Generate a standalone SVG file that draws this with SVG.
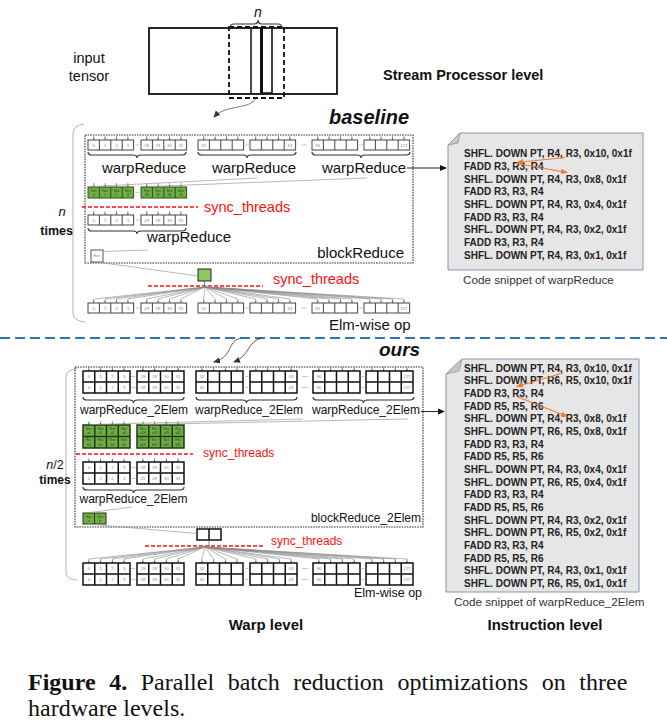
<svg xmlns="http://www.w3.org/2000/svg" width="667" height="721" viewBox="0 0 667 721">
<style>
.t{font-family:"Liberation Sans",Arial,sans-serif;fill:#111}
.lb{font-size:15px}
.lo{font-size:12px}
.sy{font-size:14.5px;fill:#ff1010}
.sy2{font-size:12px;fill:#ff1010}
.tn{font-family:"Liberation Sans",Arial,sans-serif;font-size:4.2px;fill:#888;text-anchor:middle}
.tg{font-family:"Liberation Sans",Arial,sans-serif;font-size:3.2px;fill:#1e3d10;text-anchor:middle}
.cd{font-family:"Liberation Sans",Arial,sans-serif;font-size:10px;font-weight:bold;fill:#222}
.cap{font-family:"Liberation Sans",Arial,sans-serif;font-size:11.7px;fill:#333}
.red{stroke:#ff1010;stroke-width:1.5;stroke-dasharray:4 2;fill:none}
.thin{stroke:#999;stroke-width:0.7;fill:none}
.fan{stroke:#8a8a8a;stroke-width:0.6;fill:none}
.gap{stroke:#bbb;stroke-width:0.8}
.brace{stroke:#333;stroke-width:1.2;fill:none}
.blk{fill:none;stroke:#333;stroke-width:1.1;stroke-dasharray:1.6 1}
</style>
<defs>
<marker id="ah" markerWidth="8" markerHeight="8" refX="6" refY="4" orient="auto" markerUnits="userSpaceOnUse"><path d="M0 1L7 4L0 7Z" fill="#333"/></marker>
<marker id="ahk" markerWidth="8" markerHeight="8" refX="6" refY="4" orient="auto" markerUnits="userSpaceOnUse"><path d="M0 1L7 4L0 7Z" fill="#111"/></marker>
<marker id="aho" markerWidth="8" markerHeight="8" refX="6" refY="4" orient="auto" markerUnits="userSpaceOnUse"><path d="M0 1.2L7 4L0 6.8Z" fill="#ed7d31"/></marker>
<g id="tk4"><path d="M5.7 -4V-1M17.1 -4V-1M28.5 -4V-1M39.9 -4V-1" stroke="#555" stroke-width="0.6"/><path d="M4.8 -1.6L5.7 0L6.6 -1.6ZM16.2 -1.6L17.1 0L18 -1.6ZM27.6 -1.6L28.5 0L29.4 -1.6ZM39 -1.6L39.9 0L40.8 -1.6Z" fill="#333"/></g>
<g id="tk4o"><path d="M5.9 -4V-1M17.6 -4V-1M29.4 -4V-1M41.1 -4V-1" stroke="#555" stroke-width="0.6"/><path d="M5 -1.6L5.9 0L6.8 -1.6ZM16.7 -1.6L17.6 0L18.5 -1.6ZM28.5 -1.6L29.4 0L30.3 -1.6ZM40.2 -1.6L41.1 0L42 -1.6Z" fill="#333"/></g>
<g id="c4"><use href="#tk4"/><rect width="45.6" height="10" fill="#fff" stroke="#444" stroke-width="1"/><path d="M11.4 0V10M22.8 0V10M34.2 0V10" stroke="#444" stroke-width="1"/></g>
<g id="g4"><use href="#tk4"/><rect width="45.6" height="11" fill="#70ad47" stroke="#2f4f1c" stroke-width="1"/><path d="M11.4 0V11M22.8 0V11M34.2 0V11" stroke="#2f4f1c" stroke-width="1"/></g>
<g id="c42"><use href="#tk4o"/><rect width="47" height="22" fill="#fff" stroke="#111" stroke-width="1.5"/><path d="M11.75 0V22M23.5 0V22M35.25 0V22M0 11H47" stroke="#111" stroke-width="1.5"/></g>
<g id="g42"><use href="#tk4o"/><rect width="47" height="23" fill="#70ad47" stroke="#1f3a10" stroke-width="1.5"/><path d="M11.75 0V23M23.5 0V23M35.25 0V23M0 11.5H47" stroke="#1f3a10" stroke-width="1.5"/></g>
<path id="br98" d="M0 0Q0 3 4 3H45Q49 3 49 6Q49 3 53 3H94Q98 3 98 0"/>
<path id="br101" d="M0 0Q0 3 4 3H46.5Q50.5 3 50.5 6Q50.5 3 54.5 3H97Q101 3 101 0"/>
</defs>

<g id="input-tensor">
<text class="t" x="89" y="63" font-size="14.5" text-anchor="middle" fill="#333">input</text>
<text class="t" x="89" y="81" font-size="14.5" text-anchor="middle" fill="#333">tensor</text>
<rect x="149" y="28" width="188" height="66" fill="#fff" stroke="#111" stroke-width="1.8"/>
<path d="M251 28V94" stroke="#111" stroke-width="1.5"/>
<path d="M261.5 28V93" stroke="#111" stroke-width="3"/>
<path d="M261.5 93H272V28" stroke="#111" stroke-width="1.6" fill="none"/>
<rect x="229" y="27" width="55" height="71" fill="none" stroke="#111" stroke-width="1.8" stroke-dasharray="5 3"/>
<path class="brace" d="M230 28Q230 24 234 24H254Q258 24 258 20Q258 24 262 24H278Q282 24 282 28" stroke-width="1"/>
<text class="t" x="258" y="17" font-size="14" font-style="italic" text-anchor="middle">n</text>
</g>
<g id="level-labels">
<text class="t" x="383" y="80" font-size="14.5" font-weight="bold">Stream Processor level</text>
<text class="t" x="266" y="630" font-size="15" font-weight="bold" text-anchor="middle">Warp level</text>
<text class="t" x="545" y="630" font-size="15" font-weight="bold" text-anchor="middle">Instruction level</text>
</g>

<g id="baseline-section">
<text class="t" x="329" y="124" font-size="20" font-weight="bold" font-style="italic">baseline</text>
<path d="M84 124Q73 125 73 134V313Q73 321 85 322" stroke="#aaa" stroke-width="0.9" fill="none"/>
<text class="t" x="62" y="216" font-size="13" font-style="italic" text-anchor="middle">n</text>
<text class="t" x="73" y="235" font-size="12.5" font-weight="bold" text-anchor="end">times</text>
</g>

<g id="blockReduce">
<rect class="blk" x="85" y="135" width="328" height="128"/>
<use href="#c4" x="88" y="140"/><use href="#c4" x="141" y="140"/><use href="#c4" x="198" y="140"/><use href="#c4" x="250" y="140"/><use href="#c4" x="312" y="140"/><use href="#c4" x="364" y="140"/>
<path class="gap" d="M135.5 145H139.5M244.6 145H249M301 145H307M358.6 145H363"/>
<text class="tn" y="146.5"><tspan x="93.7">0</tspan><tspan x="105.1">1</tspan><tspan x="116.5">2</tspan><tspan x="127.9">3</tspan><tspan x="146.7">28</tspan><tspan x="158.1">29</tspan><tspan x="169.5">30</tspan><tspan x="180.9">31</tspan><tspan x="203.7">32</tspan><tspan x="289.9">63</tspan><tspan x="317.7">96</tspan><tspan x="403.9">127</tspan></text>
<use href="#br98" class="brace" x="88" y="152"/><use href="#br98" class="brace" x="198" y="152"/><use href="#br98" class="brace" x="312" y="152"/>
<text class="t lb" x="144" y="173" text-anchor="middle">warpReduce</text>
<text class="t lb" x="254" y="173" text-anchor="middle">warpReduce</text>
<text class="t lb" x="364" y="173" text-anchor="middle">warpReduce</text>
<use href="#g4" x="88" y="187"/><use href="#g4" x="141" y="187"/>
<path class="gap" d="M135.5 192.5H139.5"/>
<text class="tg" y="191.6"><tspan x="93.7">Res</tspan><tspan x="105.1">Res</tspan><tspan x="116.5">Res</tspan><tspan x="127.9">Res</tspan><tspan x="146.7">Res</tspan><tspan x="158.1">Res</tspan><tspan x="169.5">Res</tspan><tspan x="180.9">Res</tspan></text>
<text class="tg" y="196"><tspan x="93.7">0</tspan><tspan x="105.1">1</tspan><tspan x="116.5">2</tspan><tspan x="127.9">3</tspan><tspan x="146.7">28</tspan><tspan x="158.1">29</tspan><tspan x="169.5">30</tspan><tspan x="180.9">31</tspan></text>
<path class="red" d="M82 207H198"/>
<text class="t sy" x="204" y="212">sync_threads</text>
<use href="#c4" x="88" y="215"/><use href="#c4" x="141" y="215"/>
<path class="gap" d="M135.5 220H139.5"/>
<text class="tn" y="221.5"><tspan x="93.7">0</tspan><tspan x="105.1">1</tspan><tspan x="116.5">2</tspan><tspan x="127.9">3</tspan><tspan x="146.7">28</tspan><tspan x="158.1">29</tspan><tspan x="169.5">30</tspan><tspan x="180.9">31</tspan></text>
<use href="#br98" class="brace" x="88" y="228"/>
<text class="t lb" x="147" y="242">warpReduce</text>
<rect x="91" y="250" width="12" height="12" fill="#fff" stroke="#555" stroke-width="1"/>
<text class="tn" x="97" y="257.3" font-size="3.4">Res</text>
<text class="t lb" x="404" y="258" text-anchor="end">blockReduce</text>
</g>

<g id="baseline-elmwise">
<rect x="198" y="269" width="13" height="12" fill="#8cc85a" stroke="#222" stroke-width="1"/>
<path class="red" d="M148 286H263"/>
<text class="t sy" x="273" y="284">sync_threads</text>
<use href="#c4" x="88" y="303"/><use href="#c4" x="141" y="303"/><use href="#c4" x="198" y="303"/><use href="#c4" x="250" y="303"/><use href="#c4" x="312" y="303"/><use href="#c4" x="364" y="303"/>
<path class="gap" d="M135.5 308H139.5M244.6 308H249M301 308H307M358.6 308H363"/>
<text class="tn" y="309.5"><tspan x="93.7">0</tspan><tspan x="105.1">1</tspan><tspan x="116.5">2</tspan><tspan x="127.9">3</tspan><tspan x="146.7">28</tspan><tspan x="158.1">29</tspan><tspan x="169.5">30</tspan><tspan x="180.9">31</tspan><tspan x="203.7">32</tspan><tspan x="289.9">63</tspan><tspan x="317.7">96</tspan><tspan x="403.9">127</tspan></text>
<text class="t lb" x="329" y="330">Elm-wise op</text>
</g>

<g id="code-warpReduce">
<path d="M460 133H643V270H448V145Z" fill="#e7e6e6" stroke="#8497b0" stroke-width="1"/>
<path d="M448 145L460 133L458 143Z" fill="#c8c8c8" stroke="#8497b0" stroke-width="0.8"/>
<text class="cd" x="464" y="157.3">SHFL. DOWN PT, R4, R3, 0x10, 0x1f<tspan x="464" dy="12.68">FADD R3, R3, R4</tspan><tspan x="464" dy="12.68">SHFL. DOWN PT, R4, R3, 0x8, 0x1f</tspan><tspan x="464" dy="12.68">FADD R3, R3, R4</tspan><tspan x="464" dy="12.68">SHFL. DOWN PT, R4, R3, 0x4, 0x1f</tspan><tspan x="464" dy="12.68">FADD R3, R3, R4</tspan><tspan x="464" dy="12.68">SHFL. DOWN PT, R4, R3, 0x2, 0x1f</tspan><tspan x="464" dy="12.68">FADD R3, R3, R4</tspan><tspan x="464" dy="12.68">SHFL. DOWN PT, R4, R3, 0x1, 0x1f</tspan></text>
<path d="M565 157.5L517 162.5" stroke="#ed7d31" stroke-width="1.2" marker-end="url(#aho)"/>
<path d="M517 163.5L567 172.5" stroke="#ed7d31" stroke-width="1.2" marker-end="url(#aho)"/>
<text class="cap" x="463" y="284">Code snippet of warpReduce</text>
</g>

<path id="divider" d="M0 338H667" stroke="#2e75b6" stroke-width="2" stroke-dasharray="10 5"/>

<g id="ours-section">
<text class="t" x="379" y="356" font-size="19" font-weight="bold" font-style="italic">ours</text>
<path d="M77 369Q66 369 66 378V572Q66 580 77 580" stroke="#aaa" stroke-width="0.9" fill="none"/>
<text class="t" x="55" y="469" font-size="12.5" text-anchor="middle"><tspan font-style="italic">n</tspan>/2</text>
<text class="t" x="55" y="484" font-size="12" font-weight="bold" text-anchor="middle">times</text>
</g>

<g id="blockReduce_2Elem">
<rect class="blk" x="75" y="367" width="348" height="160"/>
<use href="#c42" x="83" y="371"/><use href="#c42" x="137" y="371"/><use href="#c42" x="196" y="371"/><use href="#c42" x="250" y="371"/><use href="#c42" x="313" y="371"/><use href="#c42" x="366" y="371"/>
<path class="gap" d="M131.5 376.5H135.5M245 376.5H248.5M302 376.5H308M361.5 376.5H364.5M131.5 387.5H135.5M245 387.5H248.5M302 387.5H308M361.5 387.5H364.5"/>
<text class="tn" y="378"><tspan x="88.9">0</tspan><tspan x="100.6">1</tspan><tspan x="112.4">2</tspan><tspan x="124.1">3</tspan><tspan x="142.9">28</tspan><tspan x="154.6">29</tspan><tspan x="166.4">30</tspan><tspan x="178.1">31</tspan><tspan x="201.9">32</tspan><tspan x="291.1">63</tspan><tspan x="318.9">96</tspan><tspan x="407.1">127</tspan></text>
<text class="tn" y="389"><tspan x="88.9">0</tspan><tspan x="100.6">1</tspan><tspan x="112.4">2</tspan><tspan x="124.1">3</tspan><tspan x="142.9">28</tspan><tspan x="154.6">29</tspan><tspan x="166.4">30</tspan><tspan x="178.1">31</tspan><tspan x="201.9">32</tspan><tspan x="291.1">63</tspan><tspan x="318.9">96</tspan><tspan x="407.1">127</tspan></text>
<use href="#br101" class="brace" x="83" y="397"/><use href="#br101" class="brace" x="196" y="397"/><use href="#br101" class="brace" x="313" y="397"/>
<text class="t lo" x="134" y="414" text-anchor="middle">warpReduce_2Elem</text>
<text class="t lo" x="249" y="414" text-anchor="middle">warpReduce_2Elem</text>
<text class="t lo" x="366" y="414" text-anchor="middle">warpReduce_2Elem</text>
<use href="#g42" x="83" y="425"/><use href="#g42" x="137" y="425"/>
<text class="tg" y="429.8"><tspan x="88.9">Res</tspan><tspan x="100.6">Res</tspan><tspan x="112.4">Res</tspan><tspan x="124.1">Res</tspan><tspan x="142.9">Res</tspan><tspan x="154.6">Res</tspan><tspan x="166.4">Res</tspan><tspan x="178.1">Res</tspan></text>
<text class="tg" y="434.4"><tspan x="88.9">a0</tspan><tspan x="100.6">a1</tspan><tspan x="112.4">a2</tspan><tspan x="124.1">a3</tspan><tspan x="142.9">a28</tspan><tspan x="154.6">a29</tspan><tspan x="166.4">a30</tspan><tspan x="178.1">a31</tspan></text>
<text class="tg" y="441.3"><tspan x="88.9">Res</tspan><tspan x="100.6">Res</tspan><tspan x="112.4">Res</tspan><tspan x="124.1">Res</tspan><tspan x="142.9">Res</tspan><tspan x="154.6">Res</tspan><tspan x="166.4">Res</tspan><tspan x="178.1">Res</tspan></text>
<text class="tg" y="445.9"><tspan x="88.9">b0</tspan><tspan x="100.6">b1</tspan><tspan x="112.4">b2</tspan><tspan x="124.1">b3</tspan><tspan x="142.9">b28</tspan><tspan x="154.6">b29</tspan><tspan x="166.4">b30</tspan><tspan x="178.1">b31</tspan></text>
<path class="red" d="M76 454H193"/>
<text class="t sy2" x="203" y="457">sync_threads</text>
<use href="#c42" x="83" y="462"/><use href="#c42" x="137" y="462"/>
<path class="gap" d="M131.5 467.5H135.5M131.5 478.5H135.5"/>
<text class="tn" y="469"><tspan x="88.9">0</tspan><tspan x="100.6">1</tspan><tspan x="112.4">2</tspan><tspan x="124.1">3</tspan><tspan x="142.9">28</tspan><tspan x="154.6">29</tspan><tspan x="166.4">30</tspan><tspan x="178.1">31</tspan></text>
<text class="tn" y="480"><tspan x="88.9">0</tspan><tspan x="100.6">1</tspan><tspan x="112.4">2</tspan><tspan x="124.1">3</tspan><tspan x="142.9">28</tspan><tspan x="154.6">29</tspan><tspan x="166.4">30</tspan><tspan x="178.1">31</tspan></text>
<use href="#br101" class="brace" x="83" y="487"/>
<text class="t lo" x="133.5" y="503" text-anchor="middle">warpReduce_2Elem</text>
<rect x="83" y="513" width="23" height="11" fill="#70ad47" stroke="#1f3a10" stroke-width="1"/>
<path d="M94.5 513V524" stroke="#1f3a10" stroke-width="1"/>
<text class="tg" y="517.6"><tspan x="88.75">Res</tspan><tspan x="100.25">Res</tspan></text>
<text class="tg" y="522"><tspan x="88.75">a</tspan><tspan x="100.25">b</tspan></text>
<text class="t lo" x="421" y="522" text-anchor="end">blockReduce_2Elem</text>
</g>

<g id="ours-elmwise">
<rect x="197" y="529" width="24" height="11" fill="#fff" stroke="#111" stroke-width="1.5"/>
<path d="M209 529V540" stroke="#111" stroke-width="1.5"/>
<path class="red" d="M145 546H263"/>
<text class="t sy2" x="271" y="545">sync_threads</text>
<use href="#c42" x="83" y="563"/><use href="#c42" x="137" y="563"/><use href="#c42" x="196" y="563"/><use href="#c42" x="250" y="563"/><use href="#c42" x="313" y="563"/><use href="#c42" x="366" y="563"/>
<path class="gap" d="M131.5 568.5H135.5M245 568.5H248.5M302 568.5H308M361.5 568.5H364.5M131.5 579.5H135.5M245 579.5H248.5M302 579.5H308M361.5 579.5H364.5"/>
<text class="tn" y="570"><tspan x="88.9">0</tspan><tspan x="100.6">1</tspan><tspan x="112.4">2</tspan><tspan x="124.1">3</tspan><tspan x="142.9">28</tspan><tspan x="154.6">29</tspan><tspan x="166.4">30</tspan><tspan x="178.1">31</tspan><tspan x="201.9">32</tspan><tspan x="291.1">63</tspan><tspan x="318.9">96</tspan><tspan x="407.1">127</tspan></text>
<text class="tn" y="581"><tspan x="88.9">0</tspan><tspan x="100.6">1</tspan><tspan x="112.4">2</tspan><tspan x="124.1">3</tspan><tspan x="142.9">28</tspan><tspan x="154.6">29</tspan><tspan x="166.4">30</tspan><tspan x="178.1">31</tspan><tspan x="201.9">32</tspan><tspan x="291.1">63</tspan><tspan x="318.9">96</tspan><tspan x="407.1">127</tspan></text>
<text class="t" x="354" y="597" font-size="12.5">Elm-wise op</text>
</g>

<g id="code-warpReduce_2Elem">
<path d="M462 359H639V592H446V374Z" fill="#e7e6e6" stroke="#8497b0" stroke-width="1"/>
<path d="M446 374L462 359L459 371Z" fill="#c8c8c8" stroke="#8497b0" stroke-width="0.8"/>
<text class="cd" x="464" y="371.7">SHFL. DOWN PT, R4, R3, 0x10, 0x1f<tspan x="464" dy="12.66">SHFL. DOWN PT, R6, R5, 0x10, 0x1f</tspan><tspan x="464" dy="12.66">FADD R3, R3, R4</tspan><tspan x="464" dy="12.66">FADD R5, R5, R6</tspan><tspan x="464" dy="12.66">SHFL. DOWN PT, R4, R3, 0x8, 0x1f</tspan><tspan x="464" dy="12.66">SHFL. DOWN PT, R6, R5, 0x8, 0x1f</tspan><tspan x="464" dy="12.66">FADD R3, R3, R4</tspan><tspan x="464" dy="12.66">FADD R5, R5, R6</tspan><tspan x="464" dy="12.66">SHFL. DOWN PT, R4, R3, 0x4, 0x1f</tspan><tspan x="464" dy="12.66">SHFL. DOWN PT, R6, R5, 0x4, 0x1f</tspan><tspan x="464" dy="12.66">FADD R3, R3, R4</tspan><tspan x="464" dy="12.66">FADD R5, R5, R6</tspan><tspan x="464" dy="12.66">SHFL. DOWN PT, R4, R3, 0x2, 0x1f</tspan><tspan x="464" dy="12.66">SHFL. DOWN PT, R6, R5, 0x2, 0x1f</tspan><tspan x="464" dy="12.66">FADD R3, R3, R4</tspan><tspan x="464" dy="12.66">FADD R5, R5, R6</tspan><tspan x="464" dy="12.66">SHFL. DOWN PT, R4, R3, 0x1, 0x1f</tspan><tspan x="464" dy="12.66">SHFL. DOWN PT, R6, R5, 0x1, 0x1f</tspan></text>
<path d="M563 373L517 386.5" stroke="#ed7d31" stroke-width="1.2" marker-end="url(#aho)"/>
<path d="M518 397L567 416.5" stroke="#ed7d31" stroke-width="1.2" marker-end="url(#aho)"/>
<text class="cap" x="454" y="606">Code snippet of warpReduce_2Elem</text>
</g>

<g id="connectors">
<path d="M256 98C250 110 226 104 214 117" stroke="#555" stroke-width="0.8" fill="none" marker-end="url(#ah)"/>
<path d="M241 338C226 342 234 356 214 362" stroke="#333" stroke-width="0.8" fill="none" marker-end="url(#ah)"/>
<path d="M262 338C247 341 250 356 234 362" stroke="#333" stroke-width="0.8" fill="none" marker-end="url(#ah)"/>
<path d="M407 168H446" stroke="#111" stroke-width="0.9" marker-end="url(#ahk)"/>
<path d="M421 411.5H444" stroke="#111" stroke-width="0.9" marker-end="url(#ahk)"/>
<path class="thin" d="M257 178L92 186.5M367 178L150 186.5M148 250L103 251.5M97 262L198 276"/>
<path class="thin" d="M303 419L90 424.5M408 419L142 424.5M132 507L90 512.5M88 524L197 533.5"/>
<path d="M204.5 281V287M209 540V547" stroke="#555" stroke-width="0.7"/>
<path class="fan" d="M205 287L93.7 299M205 287L105.1 299M205 287L116.5 299M205 287L127.9 299M205 287L146.7 299M205 287L158.1 299M205 287L169.5 299M205 287L180.9 299M205 287L203.7 299M205 287L215.1 299M205 287L226.5 299M205 287L237.9 299M205 287L255.7 299M205 287L267.1 299M205 287L278.5 299M205 287L289.9 299M205 287L317.7 299M205 287L329.1 299M205 287L340.5 299M205 287L351.9 299M205 287L369.7 299M205 287L381.1 299M205 287L392.5 299M205 287L403.9 299"/>
<path class="fan" d="M205 547L88.9 559M205 547L100.6 559M205 547L112.4 559M205 547L124.1 559M205 547L142.9 559M205 547L154.6 559M205 547L166.4 559M205 547L178.1 559M205 547L201.9 559M205 547L213.6 559M205 547L225.4 559M205 547L237.1 559M205 547L255.9 559M205 547L267.6 559M205 547L279.4 559M205 547L291.1 559M205 547L318.9 559M205 547L330.6 559M205 547L342.4 559M205 547L354.1 559M205 547L371.9 559M205 547L383.6 559M205 547L395.4 559M205 547L407.1 559"/>
</g>

<g id="figure-caption">
<text x="28" y="690" font-family="'Liberation Serif','Times New Roman',serif" font-size="24" fill="#111" word-spacing="7.6"><tspan font-weight="bold">Figure 4.</tspan> Parallel batch reduction optimizations on three</text>
<text x="28" y="716" font-family="'Liberation Serif','Times New Roman',serif" font-size="24" fill="#111">hardware levels.</text>
</g>
</svg>
